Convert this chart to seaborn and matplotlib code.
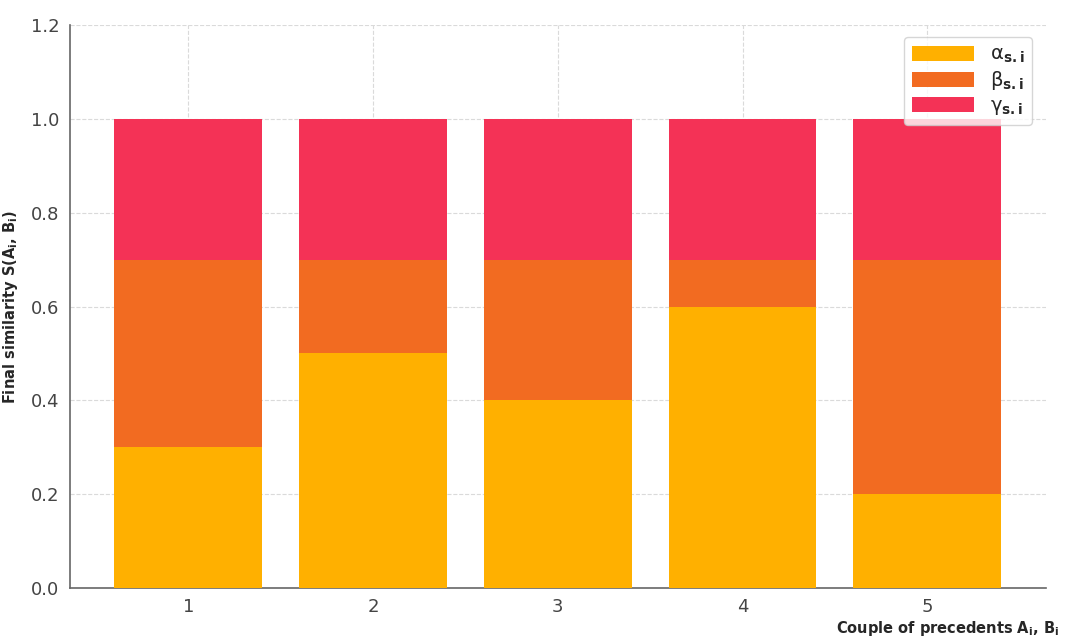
import numpy as np
import pandas as pd
import matplotlib.pyplot as plt
import seaborn as sns

couples = ["1", "2", "3", "4", "5"]
alpha_si = [0.3, 0.5, 0.4, 0.6, 0.2]
beta_si = [0.4, 0.2, 0.3, 0.1, 0.5]
gamma_si = [0.3, 0.3, 0.3, 0.3, 0.3]

colors = {"alpha": "#FFB000", "beta": "#F26B21", "gamma": "#F43256"}

sns.set_style("white")
plt.rcParams['font.family'] = ['DejaVu Sans']

fig = plt.figure(figsize=(10.68, 6.43), dpi=100)
ax = fig.add_axes([0.0655, 0.0855, 0.9135, 0.8755])

df = pd.DataFrame({"couple": couples, "alpha": alpha_si, "beta": beta_si, "gamma": gamma_si})
df["bottom_gamma"] = df["alpha"] + df["beta"]

sns.barplot(data=df, x="couple", y="alpha", color=colors["alpha"], width=0.8, linewidth=0,
            saturation=1, ax=ax, label=r'α$_{\mathbf{s.i}}$', zorder=3)
sns.barplot(data=df, x="couple", y="beta", bottom=df["alpha"], color=colors["beta"], linewidth=0,
            width=0.8, saturation=1, ax=ax, label=r'β$_{\mathbf{s.i}}$', zorder=3)
sns.barplot(data=df, x="couple", y="gamma", bottom=df["bottom_gamma"], color=colors["gamma"], linewidth=0,
            width=0.8, saturation=1, ax=ax, label=r'γ$_{\mathbf{s.i}}$', zorder=3)

ax.set_xlim(-0.64, 4.64)
ax.set_ylim(0, 1.2)
ax.set_yticks(np.arange(0, 1.21, 0.2))
ax.grid(True, linestyle='--', color='#dadada', linewidth=0.8, zorder=0)
ax.set_axisbelow(True)
for s in ["top", "right"]:
    ax.spines[s].set_visible(False)
for s in ["left", "bottom"]:
    ax.spines[s].set_color('#666666')
    ax.spines[s].set_linewidth(1.2)
ax.tick_params(axis='both', labelsize=13, colors='#444444', length=4)
ax.set_xlabel("")
ax.set_ylabel(r"Final similarity S(A$_\mathbf{i}$, B$_\mathbf{i}$)", fontsize=10.5,
              fontweight='bold', labelpad=8)

fig.text(0.783, 0.022, r"Couple of precedents A$_\mathbf{i}$, B$_\mathbf{i}$", fontsize=10.5,
         fontweight='bold', ha='left', va='center')

leg = ax.legend(loc='upper right', bbox_to_anchor=(0.99, 0.985), fontsize=14,
                frameon=True, handlelength=3.2, handleheight=0.8, labelspacing=0.2,
                borderaxespad=0.2)
leg.get_frame().set_edgecolor('#cccccc')

fig.savefig("out.png", dpi=100)
